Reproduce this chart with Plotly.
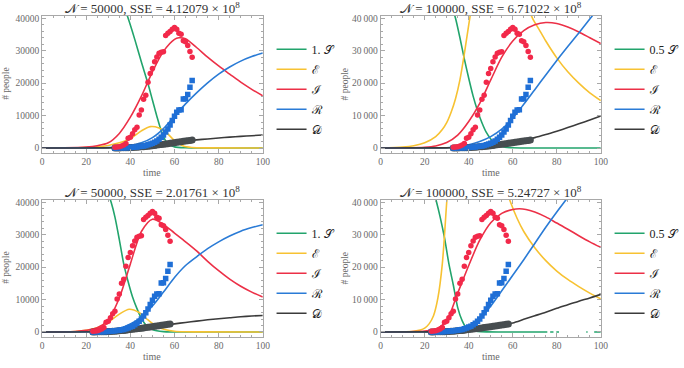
import plotly.graph_objects as go

# ---------------- observed data (daily) ----------------
DATA_DAYS = list(range(36))
T0_TOP = 33
T0_BOTTOM = 23
I_DATA = [200, 300, 400, 600, 900, 1400, 3000, 3300, 4400, 5600, 6400, 10200, 11700, 15000, 16300, 20300,
          23000, 24500, 26600, 28100, 29200, 29500, 29700, 34700, 35400, 35900, 36600, 37200, 36600, 35400,
          35100, 33100, 32800, 31600, 29800, 28000]
R_DATA = [30, 40, 50, 60, 80, 100, 130, 170, 220, 280, 350, 430, 520, 650, 800,
          1000, 1200, 1500, 1800, 2200, 2700, 3300, 4000, 4900, 5900, 7100, 8500, 9800, 11000, 11700,
          11800, 15100, 15200, 16500, 18700, 20800]
D_DATA = [20, 30, 40, 50, 60, 80, 100, 130, 160, 200, 250, 300, 360, 420, 490, 570, 650, 730, 810, 900,
          990, 1080, 1170, 1260, 1350, 1450, 1550, 1650, 1750, 1850, 1950, 2050, 2150, 2250, 2350, 2450]

# ---------------- model curves ----------------
# Panel 1 (N = 50000)
S1_T = [0, 25, 30, 33, 36, 39, 42, 45, 48, 50, 52, 54, 56, 58, 60, 65, 70, 100]
S1_V = [50000, 49900, 49300, 48000, 45500, 40000, 33500, 26500, 19800, 14800, 9800, 5300, 2200, 900, 350, 60, 0, 0]
E1_T = [0, 10, 20, 25, 30, 35, 40, 45, 49, 53, 56, 60, 64, 68, 75, 100]
E1_V = [0, 30, 150, 350, 800, 1600, 2900, 5300, 6600, 6200, 5000, 2300, 600, 150, 30, 0]
I1_T = [0, 10, 20, 25, 30, 35, 40, 45, 50, 55, 60, 62, 65, 70, 75, 80, 85, 90, 95, 100]
I1_V = [0, 50, 300, 700, 1600, 4500, 9500, 16000, 23500, 29800, 33500, 34000, 33700, 31000, 28000, 25300,
        22800, 20300, 18100, 16100]
R1_T = [0, 25, 30, 35, 40, 45, 50, 55, 60, 65, 70, 75, 80, 85, 90, 95, 100]
R1_V = [0, 30, 120, 350, 800, 1600, 3200, 6000, 9800, 13600, 17000, 20100, 22800, 25000, 26800, 28200, 29300]
D1_T = [0, 30, 35, 40, 45, 50, 55, 60, 65, 70, 75, 80, 85, 90, 95, 100]
D1_V = [0, 40, 150, 350, 650, 1000, 1400, 1800, 2150, 2500, 2800, 3100, 3350, 3600, 3800, 4000]

# Panel 2 (N = 100000)
S2_T = [0, 25, 28, 30, 32, 34, 36, 38, 40, 42, 44, 46, 48, 50, 52, 55, 60, 65, 100]
S2_V = [50000, 49500, 48500, 47200, 44500, 40000, 34000, 27500, 21500, 16000, 11500, 7800, 4800, 2800, 1500,
        500, 60, 0, 0]
E2_T = [0, 10, 15, 20, 25, 28, 30, 32, 34, 36, 38, 40, 42, 45, 50, 55, 60, 65, 69, 72, 75, 80, 85, 90, 95, 100]
E2_V = [0, 300, 700, 1600, 3500, 5700, 7800, 11000, 15200, 21000, 29000, 38000, 46000, 55000, 62000, 63000,
        58000, 47000, 40000, 36500, 33000, 27800, 23500, 20000, 17000, 14600]
I2_T = [0, 10, 20, 25, 30, 35, 40, 45, 50, 55, 60, 65, 70, 75, 80, 85, 90, 95, 100]
I2_V = [0, 60, 250, 650, 1700, 4000, 8200, 13800, 21000, 28000, 33000, 36200, 38000, 38700, 38400, 37300,
        35800, 34000, 32200]
R2_T = [0, 30, 35, 40, 45, 50, 55, 60, 65, 70, 75, 80, 85, 90, 95, 100]
R2_V = [0, 100, 400, 1000, 2000, 3500, 5800, 9200, 13500, 18000, 22500, 27000, 31300, 35500, 39800, 44000]
D2_T = [0, 30, 35, 40, 45, 50, 55, 60, 65, 70, 75, 80, 85, 90, 95, 100]
D2_V = [0, 50, 150, 350, 600, 950, 1350, 1900, 2500, 3200, 4150, 5200, 6300, 7450, 8650, 9850]

# Panel 3 (N = 50000)
S3_T = [0, 20, 23, 26, 29, 31.3, 33, 35, 37, 39, 41, 43, 45, 47, 50, 55, 60, 100]
S3_V = [50000, 49800, 49200, 47800, 44500, 40000, 35500, 28500, 21000, 15500, 10800, 7200, 4200, 2200, 800,
        100, 0, 0]
E3_T = [0, 10, 15, 20, 25, 30, 35, 39.5, 44, 48, 52, 56, 60, 65, 70, 100]
E3_V = [0, 30, 150, 500, 1300, 3000, 5500, 7000, 6000, 3700, 1700, 700, 250, 80, 20, 0]
I3_T = [0, 10, 15, 20, 25, 30, 35, 40, 45, 50, 55, 60, 65, 70, 75, 80, 85, 90, 95, 100]
I3_V = [0, 30, 150, 500, 1300, 3800, 10500, 21000, 31000, 34800, 33200, 30500, 27800, 25000, 21800, 18900,
        16300, 14100, 12300, 10800]
R3_T = [0, 25, 30, 35, 40, 45, 50, 55, 60, 65, 70, 75, 80, 85, 90, 95, 100]
R3_V = [0, 100, 400, 1100, 2500, 4600, 8000, 12300, 16800, 20500, 23200, 25700, 27800, 29600, 31100, 32200, 33100]
D3_T = [0, 25, 30, 35, 40, 45, 50, 55, 60, 65, 70, 75, 80, 85, 90, 95, 100]
D3_V = [0, 50, 180, 450, 800, 1200, 1600, 2050, 2500, 2950, 3350, 3750, 4100, 4400, 4700, 4920, 5100]

# Panel 4 (N = 100000) - the S curve has small gaps near zero
S4_T = [0, 18, 21, 23, 25.4, 27, 29, 31, 33, 35, 37, 39, 41, 44, 48, 55, 60, 70, 75.7, 76.3,
        77, 78.5, 79.2, 79.8, 81, 85, 93.4, 94, 95, 97, 100]
S4_V = [50000, 49800, 48500, 46000, 40000, 35500, 29000, 21000, 14500, 7500, 3500, 1200, 500, 150, 20, 0, 0, 0, 0,
        None, 0, 0, None, 0, 0, None, 0, 0, None, 0, 0]
E4_T = [0, 10, 15, 18, 20, 22, 24, 26, 28, 30, 32, 35, 40, 45, 50, 55, 59, 62, 65, 70, 75, 80, 85, 90, 95, 100]
E4_V = [0, 50, 250, 600, 1200, 2500, 5000, 10500, 21000, 40000, 58000, 70000, 75000, 70000, 60000, 48000,
        40000, 35000, 31000, 26000, 22000, 18800, 16200, 14000, 12000, 10200]
I4_T = [0, 10, 15, 20, 25, 30, 35, 40, 45, 50, 55, 60, 63, 66, 70, 75, 80, 85, 90, 95, 100]
I4_V = [0, 30, 100, 300, 800, 3600, 12000, 20500, 28300, 33700, 36600, 37800, 38000, 37800, 37000, 35500,
        33600, 31700, 29700, 27800, 26100]
R4_T = [0, 25, 30, 35, 40, 45, 50, 55, 60, 65, 70, 75, 80, 85, 90, 95, 100]
R4_V = [0, 100, 300, 700, 1500, 3800, 8000, 12700, 17500, 22300, 27300, 32300, 37000, 41500, 46000, 50000, 54000]
D4_T = [0, 25, 30, 35, 40, 45, 50, 55, 60, 65, 70, 75, 80, 85, 90, 95, 100]
D4_V = [0, 30, 100, 300, 600, 1050, 1550, 2100, 2800, 3900, 5000, 6100, 7300, 8400, 9500, 10500, 11600]

TITLES = ["𝒩 = 50000, SSE = 4.12079 × 10<sup>8</sup>",
          "𝒩 = 100000, SSE = 6.71022 × 10<sup>8</sup>",
          "𝒩 = 50000, SSE = 2.01761 × 10<sup>8</sup>",
          "𝒩 = 100000, SSE = 5.24727 × 10<sup>8</sup>"]
S_LABELS = ["1. 𝒮", "0.5 𝒮", "1. 𝒮", "0.5 𝒮"]
OTHER_LABELS = ["ℰ", "ℐ", "ℛ", "𝒟"]
X_TITLE = "time"
Y_TITLE = "# people"

XTICK_VALS = [0, 20, 40, 60, 80, 100]
YTICK_VALS = [0, 10000, 20000, 30000, 40000]
YTICK_PLAIN = ["0", "10000", "20000", "30000", "40000"]
YTICK_SPACED = ["0", "10\u2009000", "20\u2009000", "30\u2009000", "40\u2009000"]

# ---------------- styling ----------------
C_S, C_E, C_I, C_R, C_D = "#22a46c", "#f7c232", "#ec3047", "#2a7bd6", "#3b3b3b"
C_ID, C_RD, C_DD = "#f2294a", "#1f6fd6", "#474d50"
FRAME = "#a8a8a8"
SERIF = "Liberation Serif"
W, H = 684, 368

panels = [
    dict(curves=[(S1_T, S1_V), (E1_T, E1_V), (I1_T, I1_V), (R1_T, R1_V), (D1_T, D1_V)], t0=T0_TOP,
         xd=[0.0624, 0.3899], yd=[0.585, 0.9573], yt=YTICK_PLAIN),
    dict(curves=[(S2_T, S2_V), (E2_T, E2_V), (I2_T, I2_V), (R2_T, R2_V), (D2_T, D2_V)], t0=T0_TOP,
         xd=[0.5648, 0.8914], yd=[0.585, 0.9573], yt=YTICK_SPACED),
    dict(curves=[(S3_T, S3_V), (E3_T, E3_V), (I3_T, I3_V), (R3_T, R3_V), (D3_T, D3_V)], t0=T0_BOTTOM,
         xd=[0.0624, 0.3899], yd=[0.0851, 0.4573], yt=YTICK_PLAIN),
    dict(curves=[(S4_T, S4_V), (E4_T, E4_V), (I4_T, I4_V), (R4_T, R4_V), (D4_T, D4_V)], t0=T0_BOTTOM,
         xd=[0.5648, 0.8914], yd=[0.0851, 0.4573], yt=YTICK_SPACED),
]
colors = [C_S, C_E, C_I, C_R, C_D]

fig = go.Figure()
layout = dict(width=W, height=H, margin=dict(l=0, r=0, t=0, b=0), plot_bgcolor="white",
              paper_bgcolor="white", showlegend=True, annotations=[], hovermode=False)

for k, p in enumerate(panels):
    n = k + 1
    xa = "x" if n == 1 else f"x{n}"
    ya = "y" if n == 1 else f"y{n}"
    lg = "legend" if n == 1 else f"legend{n}"
    names = [S_LABELS[k]] + OTHER_LABELS
    for j, ((tt, vv), col) in enumerate(zip(p["curves"], colors)):
        fig.add_trace(go.Scatter(x=tt, y=vv, mode="lines", line=dict(color=col, width=1.6, shape="spline",
                                 smoothing=0.8), name=names[j], legend=lg, legendgroup=f"g{n}{j}",
                                 xaxis=xa, yaxis=ya, hoverinfo="skip"))
    td = [p["t0"] + d for d in DATA_DAYS]
    fig.add_trace(go.Scatter(x=td, y=D_DATA, mode="markers", marker=dict(color=C_DD, size=7, symbol="circle"),
                             showlegend=False, xaxis=xa, yaxis=ya))
    fig.add_trace(go.Scatter(x=td, y=R_DATA, mode="markers", marker=dict(color=C_RD, size=5.5, symbol="square"),
                             showlegend=False, xaxis=xa, yaxis=ya))
    fig.add_trace(go.Scatter(x=td, y=I_DATA, mode="markers", marker=dict(color=C_ID, size=5.5, symbol="circle"),
                             showlegend=False, xaxis=xa, yaxis=ya))

    axcommon = dict(showline=True, linecolor=FRAME, linewidth=1, mirror="allticks", ticks="inside",
                    tickcolor=FRAME, ticklen=4, showgrid=False, zeroline=False, automargin=False,
                    tickfont=dict(family=SERIF, size=9.5, color="#6a6a6a"))
    layout["xaxis" if n == 1 else f"xaxis{n}"] = dict(
        axcommon, domain=p["xd"], anchor=ya, range=[0, 100], tickvals=XTICK_VALS,
        minor=dict(ticks="inside", dtick=5, tick0=0, ticklen=2, tickcolor=FRAME))
    layout["yaxis" if n == 1 else f"yaxis{n}"] = dict(
        axcommon, domain=p["yd"], anchor=xa, range=[-1450, 40800], tickvals=YTICK_VALS, ticktext=p["yt"],
        minor=dict(ticks="inside", dtick=2000, tick0=0, ticklen=2, tickcolor=FRAME))
    top_px = (1 - p["yd"][1]) * H
    bot_px = (1 - p["yd"][0]) * H
    layout[lg] = dict(x=p["xd"][1] + 0.013, y=1 - (top_px + 19) / H, xanchor="left", yanchor="top",
                      font=dict(family=SERIF, size=12, color="#222"), tracegroupgap=1, traceorder="grouped",
                      bgcolor="rgba(0,0,0,0)", itemwidth=30)
    cx = (p["xd"][0] + p["xd"][1]) / 2
    layout["annotations"].append(dict(text=TITLES[k], x=cx, y=1 - (top_px - 8) / H,
                                      xref="paper", yref="paper", xanchor="center", yanchor="middle",
                                      showarrow=False, font=dict(family=SERIF, size=13, color="#333")))
    layout["annotations"].append(dict(text=X_TITLE, x=cx, y=1 - (bot_px + 20) / H,
                                      xref="paper", yref="paper", xanchor="center", yanchor="middle",
                                      showarrow=False, font=dict(family=SERIF, size=10, color="#6a6a6a")))
    layout["annotations"].append(dict(text=Y_TITLE, x=(p["xd"][0] * W - 36) / W, y=(p["yd"][0] + p["yd"][1]) / 2,
                                      xref="paper", yref="paper", xanchor="center", yanchor="middle",
                                      textangle=-90, showarrow=False,
                                      font=dict(family=SERIF, size=9.5, color="#6a6a6a")))

fig.update_layout(**layout)
fig.write_html("out.html", config={"displayModeBar": False, "staticPlot": True},
               post_script="document.body.style.margin='0';document.body.style.overflow='hidden';")
